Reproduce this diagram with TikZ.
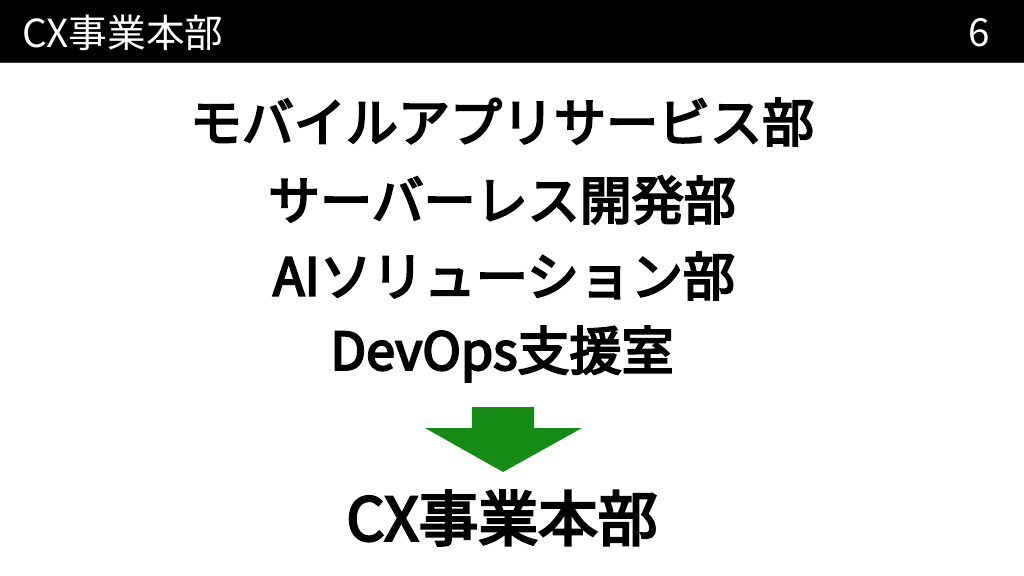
\documentclass[tikz,border=0pt]{standalone}
\usepackage{fontspec}
\usepackage{tikz}
\usetikzlibrary{positioning}
\newfontfamily\jpfont{Noto Sans CJK JP}
\newfontfamily\jpmed{Noto Sans CJK JP}[FakeBold=4]
\definecolor{bargray}{RGB}{60,60,60}
\definecolor{arrowgreen}{RGB}{22,140,22}

\begin{document}
\begin{tikzpicture}[
  x=0.025cm,y=-0.025cm,
  font=\jpfont,
  hdr/.style={text=white,inner sep=0pt,font=\jpfont\fontsize{27.5}{32}\selectfont},
  dept/.style={inner sep=0pt,font=\jpmed\fontsize{37}{44}\selectfont},
  merged/.style={inner sep=0pt,font=\jpmed\fontsize{42.5}{50}\selectfont},
]
\useasboundingbox (0,0) rectangle (1024,576);
\fill[white] (0,0) rectangle (1024,576);
% header bar
\fill[black] (0,0) rectangle (1024,62);
\fill[bargray] (0,62) rectangle (1024,63.5);
\node[hdr,anchor=west] (title) at (22,33) {CX事業本部};
\node[hdr] (page) at (979,33) {6};
% departments
\node[dept] (mobile) at (502,122) {モバイルアプリサービス部};
\node[dept] (serverless) at (502,200) {サーバーレス開発部};
\node[dept] (ai) at (504,276) {AIソリューション部};
\node[dept] (devops) at (502,354) {DevOps支援室};
% arrow
\fill[arrowgreen] (472,407) -- (534,407) -- (534,428) -- (582,428)
  -- (503,472) -- (425,428) -- (472,428) -- cycle;
\node[merged] (cx) at (502,518) {CX事業本部};
\end{tikzpicture}
\end{document}
